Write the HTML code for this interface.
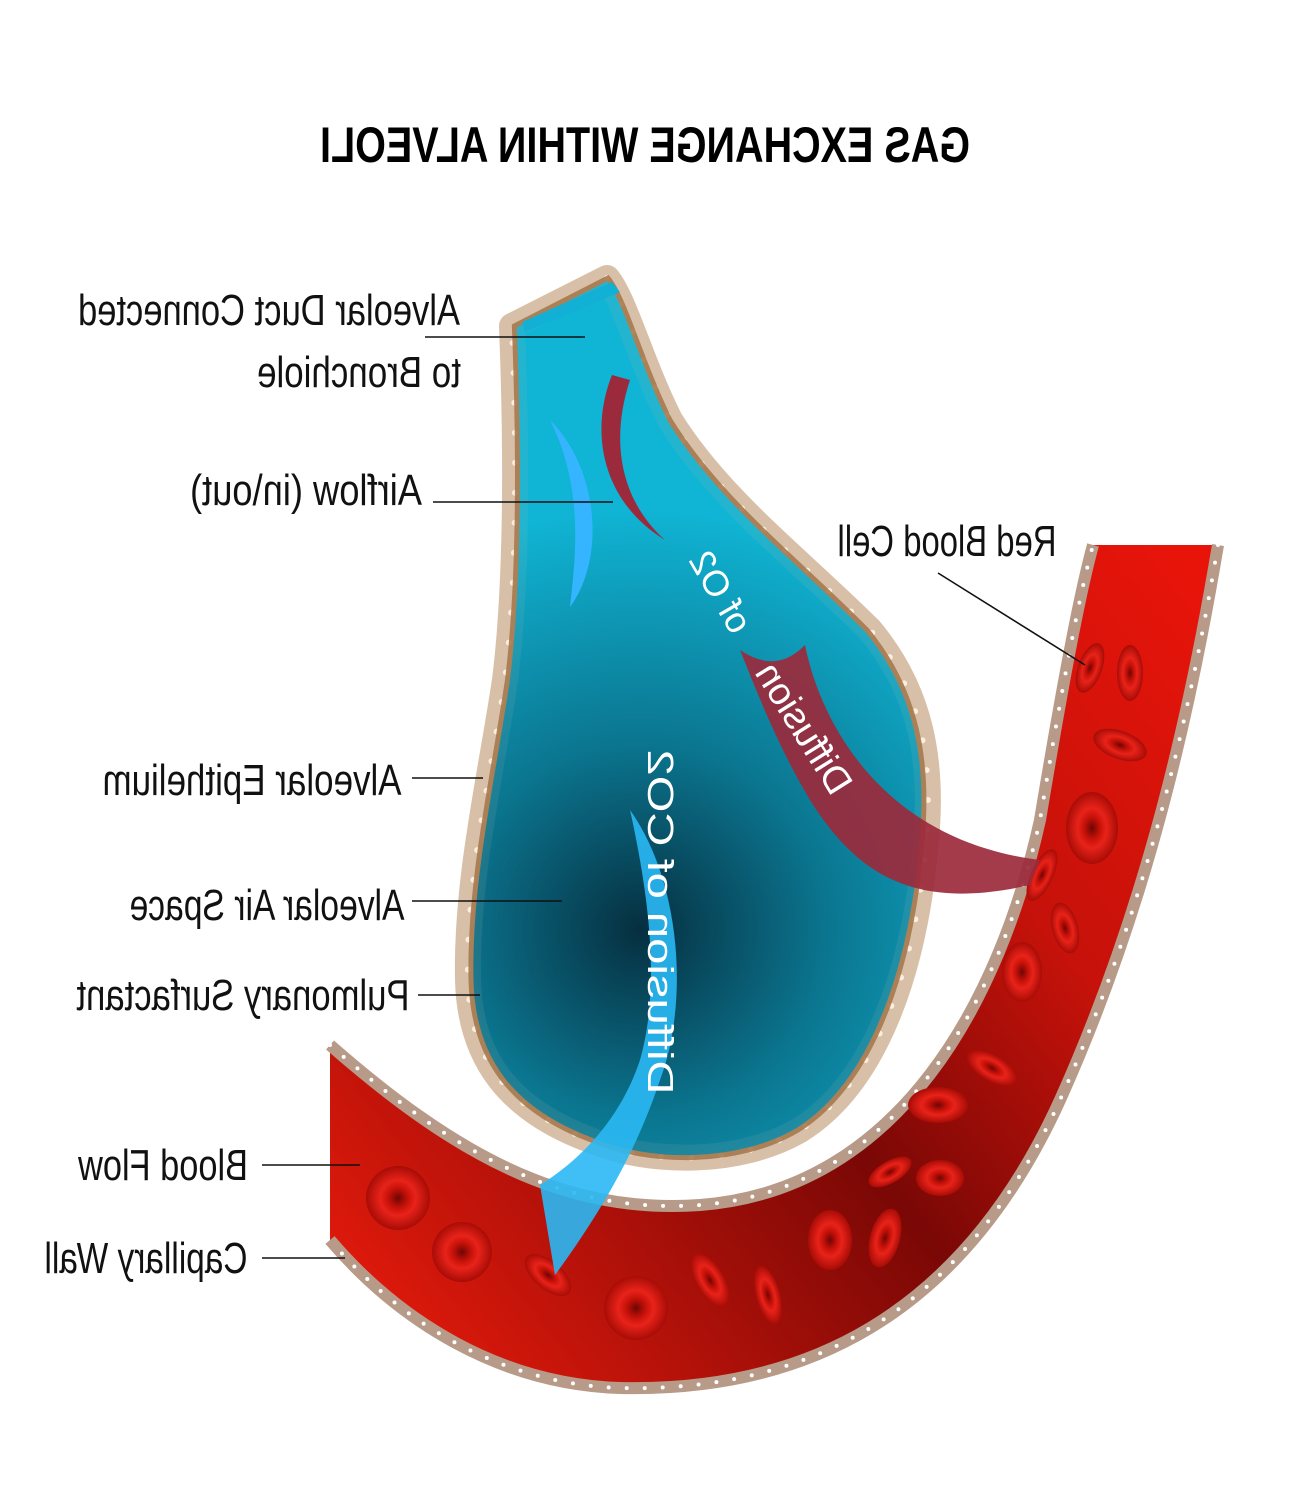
<!DOCTYPE html>
<html><head><meta charset="utf-8"><style>
html,body{margin:0;padding:0;background:#fff;width:1290px;height:1499px;overflow:hidden}
svg{display:block}
.lb{font-family:"Liberation Sans",sans-serif;font-size:44px;fill:#111}
</style></head><body>
<svg width="1290" height="1499" viewBox="0 0 1290 1499" xmlns="http://www.w3.org/2000/svg">
<defs>
<radialGradient id="tg" cx="640" cy="930" r="420" gradientUnits="userSpaceOnUse">
<stop offset="0" stop-color="#062f40"/><stop offset="0.45" stop-color="#0b7690"/><stop offset="1" stop-color="#10b4d4"/>
</radialGradient>
<linearGradient id="rg" x1="330" y1="1300" x2="1215" y2="600" gradientUnits="userSpaceOnUse">
<stop offset="0" stop-color="#e51a0c"/><stop offset="0.45" stop-color="#7a0806"/><stop offset="0.7" stop-color="#c5120a"/><stop offset="1" stop-color="#e8140a"/>
</linearGradient>
<radialGradient id="cell"><stop offset="0" stop-color="#6e0606"/><stop offset="0.3" stop-color="#c51108"/><stop offset="0.55" stop-color="#e8231a"/><stop offset="1" stop-color="#a80c06"/></radialGradient>
</defs>

<text transform="translate(645,162) scale(-1,1)" text-anchor="middle" textLength="650" lengthAdjust="spacingAndGlyphs" font-family="Liberation Sans,sans-serif" font-weight="bold" font-size="50">GAS EXCHANGE WITHIN ALVEOLI</text>

<path d="M330,1045 C450,1150 560,1215 700,1205 C900,1190 1000,1000 1040,820 C1060,700 1078,600 1093,545 L1218,545 C1192,700 1150,900 1060,1100 C960,1320 800,1392 620,1388 C500,1384 400,1322 330,1240 Z" fill="url(#rg)"/>
<path d="M330,1045 C450,1150 560,1215 700,1205 C900,1190 1000,1000 1040,820 C1060,700 1078,600 1093,545" fill="none" stroke="#b89a88" stroke-width="12"/>
<path d="M330,1045 C450,1150 560,1215 700,1205 C900,1190 1000,1000 1040,820 C1060,700 1078,600 1093,545" fill="none" stroke="#fff" stroke-width="4" stroke-dasharray="0 18" stroke-linecap="round"/>
<path d="M1218,545 C1192,700 1150,900 1060,1100 C960,1320 800,1392 620,1388 C500,1384 400,1322 330,1240" fill="none" stroke="#b89a88" stroke-width="12"/>
<path d="M1218,545 C1192,700 1150,900 1060,1100 C960,1320 800,1392 620,1388 C500,1384 400,1322 330,1240" fill="none" stroke="#fff" stroke-width="4" stroke-dasharray="0 18" stroke-linecap="round"/>

<g fill="url(#cell)">
<ellipse cx="398" cy="1198" rx="32" ry="32"/><ellipse cx="462" cy="1252" rx="30" ry="30"/>
<ellipse cx="548" cy="1275" rx="28" ry="14" transform="rotate(40 548 1275)"/>
<ellipse cx="636" cy="1308" rx="32" ry="32"/><ellipse cx="710" cy="1280" rx="30" ry="14" transform="rotate(60 710 1280)"/>
<ellipse cx="768" cy="1295" rx="30" ry="12" transform="rotate(75 768 1295)"/>
<ellipse cx="830" cy="1240" rx="22" ry="30"/><ellipse cx="885" cy="1238" rx="15" ry="30" transform="rotate(15 885 1238)"/>
<ellipse cx="940" cy="1178" rx="24" ry="18"/><ellipse cx="890" cy="1172" rx="24" ry="11" transform="rotate(-30 890 1172)"/>
<ellipse cx="938" cy="1105" rx="30" ry="18"/><ellipse cx="992" cy="1068" rx="28" ry="13" transform="rotate(30 992 1068)"/>
<ellipse cx="1022" cy="972" rx="20" ry="30"/><ellipse cx="1065" cy="928" rx="13" ry="26" transform="rotate(-15 1065 928)"/>
<ellipse cx="1042" cy="875" rx="11" ry="28" transform="rotate(25 1042 875)"/>
<ellipse cx="1092" cy="828" rx="26" ry="36"/><ellipse cx="1120" cy="745" rx="28" ry="14" transform="rotate(20 1120 745)"/>
<ellipse cx="1090" cy="668" rx="12" ry="26" transform="rotate(20 1090 668)"/><ellipse cx="1130" cy="673" rx="13" ry="28"/>
</g>

<path d="M512,326 L607,278 C625,300 640,360 670,420 C720,500 800,560 870,630 C920,690 935,760 925,850 C915,960 880,1080 800,1130 C740,1165 650,1165 590,1140 C510,1110 470,1060 468,980 C466,880 490,780 505,680 C515,600 518,480 512,326 Z" fill="url(#tg)" stroke="#d8c0a8" stroke-width="26" stroke-linejoin="round"/>
<path d="M607,278 C625,300 640,360 670,420 C720,500 800,560 870,630 C920,690 935,760 925,850 C915,960 880,1080 800,1130 C740,1165 650,1165 590,1140 C510,1110 470,1060 468,980 C466,880 490,780 505,680 C515,600 518,480 512,326" fill="none" stroke="#fbeee0" stroke-width="6" stroke-dasharray="0 30" stroke-linecap="round"/>
<path d="M512,326 L607,278 C625,300 640,360 670,420 C720,500 800,560 870,630 C920,690 935,760 925,850 C915,960 880,1080 800,1130 C740,1165 650,1165 590,1140 C510,1110 470,1060 468,980 C466,880 490,780 505,680 C515,600 518,480 512,326 Z" fill="url(#tg)" stroke="#a87a4e" stroke-width="5" transform="translate(10,0) scale(0.985,1)" opacity="0.9"/>
<path d="M522,322 L612,282 L620,292 L525,332 Z" fill="#12b0d4"/>

<path d="M550,420 C600,470 605,560 570,607 C575,560 585,490 550,420 Z" fill="#35b5ff"/>
<path d="M612,375 C590,430 600,500 665,540 C620,500 610,440 630,380 Z" fill="#9b2a3c"/>
<path d="M740,650 C770,670 790,660 805,645 C820,720 880,840 1040,860 L1030,885 C920,910 860,880 810,800 C780,750 760,700 740,650 Z" fill="#9b2a3c" opacity="0.92"/>
<path d="M630,810 C680,880 690,1000 660,1080 C640,1140 610,1200 555,1275 L540,1185 C580,1160 620,1120 640,1060 C660,990 650,900 630,810 Z" fill="#2ab8f4" opacity="0.9"/>

<g font-family="Liberation Sans,sans-serif" font-size="36" fill="#fff">
<text transform="translate(710,598) scale(-1,1) rotate(-60)" text-anchor="middle">of O2</text>
<text transform="translate(793,735) scale(-1,1) rotate(-58)" text-anchor="middle" font-size="38">Diffusion</text>
<text transform="translate(648,922) scale(-1,1) rotate(-90)" text-anchor="middle" textLength="345" lengthAdjust="spacingAndGlyphs">Diffusion of CO2</text>
</g>

<g stroke="#111" stroke-width="1.6">
<line x1="425" y1="337" x2="585" y2="337"/><line x1="433" y1="502" x2="613" y2="502"/>
<line x1="938" y1="573" x2="1085" y2="665"/><line x1="412" y1="778" x2="483" y2="778"/>
<line x1="412" y1="901" x2="562" y2="901"/><line x1="418" y1="995" x2="480" y2="995"/>
<line x1="262" y1="1165" x2="360" y2="1165"/><line x1="262" y1="1258" x2="345" y2="1258"/>
</g>
<g class="lb">
<text class="lb" transform="translate(269,325) scale(-1,1)" text-anchor="middle" textLength="382" lengthAdjust="spacingAndGlyphs">Alveolar Duct Connected</text>
<text class="lb" transform="translate(359,387) scale(-1,1)" text-anchor="middle" textLength="204" lengthAdjust="spacingAndGlyphs">to Bronchiole</text>
<text class="lb" transform="translate(306,505) scale(-1,1)" text-anchor="middle" textLength="232" lengthAdjust="spacingAndGlyphs">Airflow (in\out)</text>
<text class="lb" transform="translate(947,556) scale(-1,1)" text-anchor="middle" textLength="219" lengthAdjust="spacingAndGlyphs">Red Blood Cell</text>
<text class="lb" transform="translate(252,795) scale(-1,1)" text-anchor="middle" textLength="299" lengthAdjust="spacingAndGlyphs">Alveolar Epithelium</text>
<text class="lb" transform="translate(267,920) scale(-1,1)" text-anchor="middle" textLength="275" lengthAdjust="spacingAndGlyphs">Alveolar Air Space</text>
<text class="lb" transform="translate(243,1010) scale(-1,1)" text-anchor="middle" textLength="333" lengthAdjust="spacingAndGlyphs">Pulmonary Surfactant</text>
<text class="lb" transform="translate(163,1180) scale(-1,1)" text-anchor="middle" textLength="170" lengthAdjust="spacingAndGlyphs">Blood Flow</text>
<text class="lb" transform="translate(146,1273) scale(-1,1)" text-anchor="middle" textLength="203" lengthAdjust="spacingAndGlyphs">Capillary Wall</text>
</g>
</svg>
</body></html>
